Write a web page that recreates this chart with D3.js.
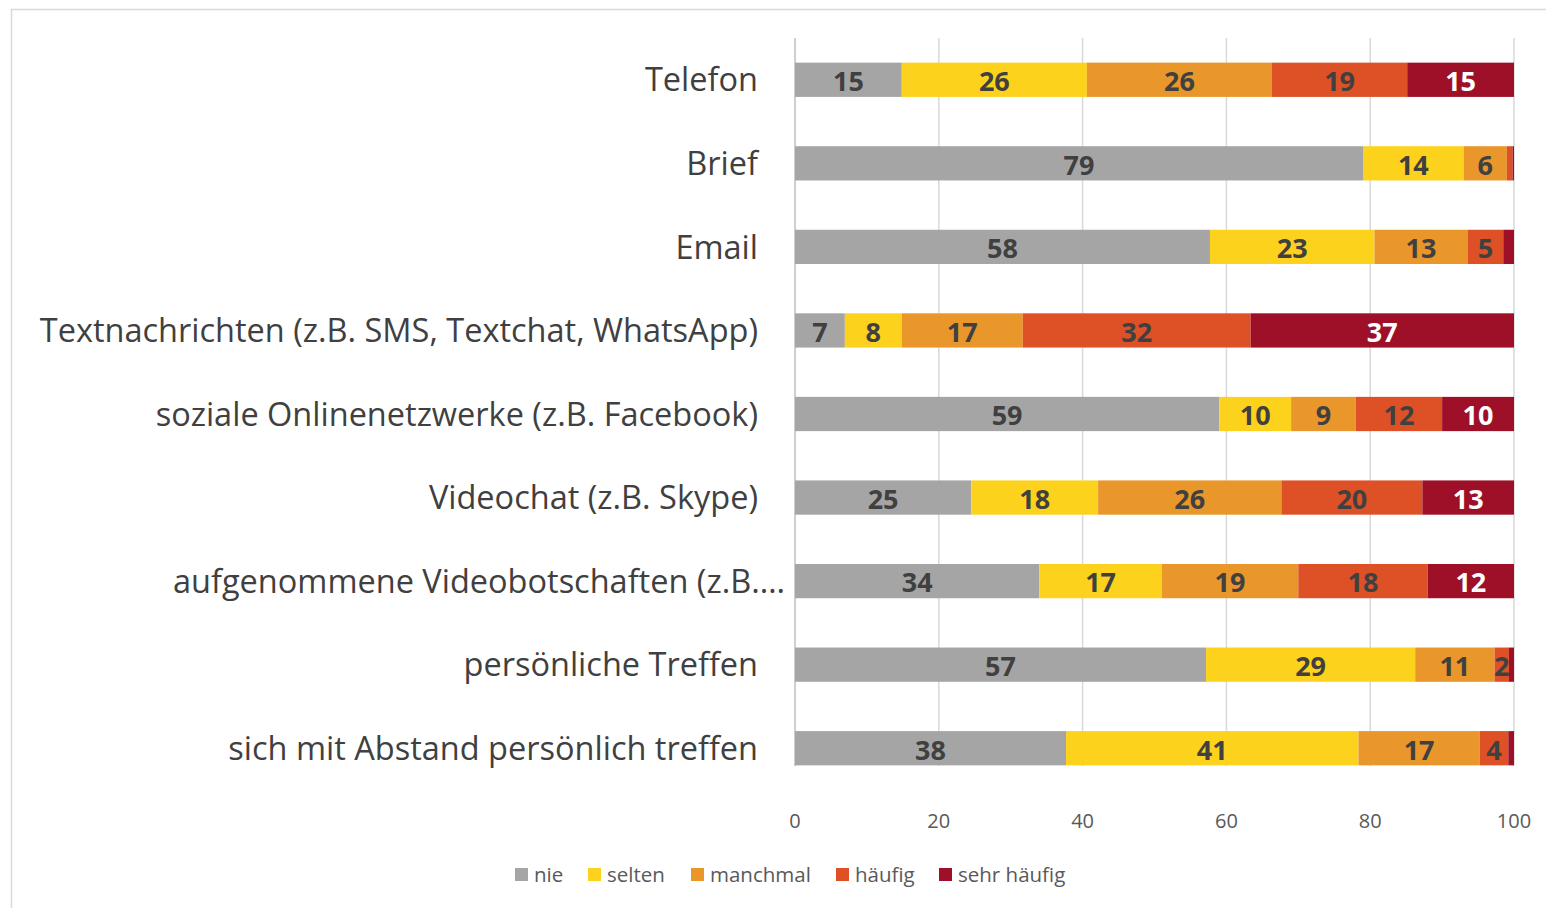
<!DOCTYPE html>
<html>
<head>
<meta charset="utf-8">
<script src="https://cdn.jsdelivr.net/npm/d3@7"></script>
<style>
  body { margin: 0; background: #fff; }
  svg { display: block; }
</style>
</head>
<body>
<svg></svg>
<script>
// data
var categories = ['Telefon', 'Brief', 'Email', 'Textnachrichten (z.B. SMS, Textchat, WhatsApp)',
  'soziale Onlinenetzwerke (z.B. Facebook)', 'Videochat (z.B. Skype)',
  'aufgenommene Videobotschaften (z.B.…', 'persönliche Treffen', 'sich mit Abstand persönlich treffen'];
var series = ['nie', 'selten', 'manchmal', 'häufig', 'sehr häufig'];
var nie        = [15, 79, 58, 7, 59, 25, 34, 57, 38];
var selten     = [26, 14, 23, 8, 10, 18, 17, 29, 41];
var manchmal   = [26, 6, 13, 17, 9, 26, 19, 11, 17];
var haeufig    = [19, 0.8, 5, 32, 12, 20, 18, 2, 4];
var sehrHaeufig = [15, 0.2, 1.5, 37, 10, 13, 12, 0.7, 0.8];
var xTicks = [0, 20, 40, 60, 80, 100];

var colors = ['#a5a5a5', '#fdd21c', '#e9962a', '#de5025', '#9d1027'];
var labelColors = ['#404040', '#404040', '#404040', '#404040', '#ffffff'];

var svgWidth = 1546, svgHeight = 908;
var svg = d3.select('svg')
    .attr('width', svgWidth)
    .attr('height', svgHeight);

// frame
svg.append('rect')
    .attr('x', 11.5).attr('y', 9.5)
    .attr('width', 1560).attr('height', 920)
    .attr('fill', 'none')
    .attr('stroke', '#d9d9d9')
    .attr('stroke-width', 1.5);

var rows = categories.map(function(c, i) {
    return { cat: c, 'nie': nie[i], 'selten': selten[i], 'manchmal': manchmal[i],
             'häufig': haeufig[i], 'sehr häufig': sehrHaeufig[i] };
});

var stack = d3.stack().keys(series).offset(d3.stackOffsetExpand);
var layers = stack(rows);

var xScale = d3.scaleLinear().domain([0, 1]).range([795, 1514]);
var xAxisScale = d3.scaleLinear().domain([0, 100]).range([795, 1514]);
var yScale = d3.scaleBand().domain(categories).range([38, 790]).paddingInner(0.59).paddingOuter(0.295);

// gridlines
svg.append('g').selectAll('line')
    .data(xTicks)
    .enter().append('line')
    .attr('x1', function(d) { return xAxisScale(d); })
    .attr('x2', function(d) { return xAxisScale(d); })
    .attr('y1', 38).attr('y2', 766)
    .attr('stroke', function(d) { return d == 0 ? '#bfbfbf' : '#d9d9d9'; })
    .attr('stroke-width', 1.5);

// bars
var groups = svg.append('g').selectAll('g')
    .data(layers)
    .enter().append('g')
    .attr('fill', function(d, i) { return colors[i]; });

groups.selectAll('rect')
    .data(function(d) { return d; })
    .enter().append('rect')
    .attr('x', function(d) { return xScale(d[0]); })
    .attr('width', function(d) { return xScale(d[1]) - xScale(d[0]); })
    .attr('y', function(d) { return yScale(d.data.cat); })
    .attr('height', yScale.bandwidth());

// value labels
layers.forEach(function(layer, si) {
    svg.append('g').selectAll('text')
        .data(layer.filter(function(d) { return d.data[layer.key] >= 2; }))
        .enter().append('text')
        .attr('x', function(d) { return (xScale(d[0]) + xScale(d[1])) / 2; })
        .attr('y', function(d) { return yScale(d.data.cat) + yScale.bandwidth() / 2; })
        .attr('dy', '0.42em')
        .attr('text-anchor', 'middle')
        .style('font', 'bold 27px "Open Sans", sans-serif')
        .attr('fill', labelColors[si])
        .text(function(d) { return Math.round(d.data[layer.key]); });
});

// category labels
svg.append('g').selectAll('text')
    .data(categories)
    .enter().append('text')
    .attr('x', function(d) { return d.indexOf('…') > 0 ? 785 : 758; })
    .attr('y', function(d) { return yScale(d) + yScale.bandwidth() / 2; })
    .attr('dy', '0.36em')
    .attr('text-anchor', 'end')
    .style('font', '32.5px "Open Sans", sans-serif')
    .attr('fill', '#404040')
    .text(function(d) { return d; });

// x tick labels
svg.append('g').selectAll('text')
    .data(xTicks)
    .enter().append('text')
    .attr('x', function(d) { return xAxisScale(d); })
    .attr('y', 828)
    .attr('text-anchor', 'middle')
    .style('font', '20px "Open Sans", sans-serif')
    .attr('fill', '#595959')
    .text(function(d) { return d; });

// legend
var legendX = [515, 588, 691, 836, 939];
var legend = svg.append('g').selectAll('g')
    .data(series)
    .enter().append('g')
    .attr('transform', function(d, i) { return 'translate(' + legendX[i] + ',868)'; });
legend.append('rect')
    .attr('width', 13).attr('height', 13)
    .attr('fill', function(d, i) { return colors[i]; });
legend.append('text')
    .attr('x', 19).attr('y', 7)
    .attr('dy', '0.36em')
    .style('font', '20.5px "Open Sans", sans-serif')
    .attr('fill', '#595959')
    .text(function(d) { return d; });
</script>
</body>
</html>
